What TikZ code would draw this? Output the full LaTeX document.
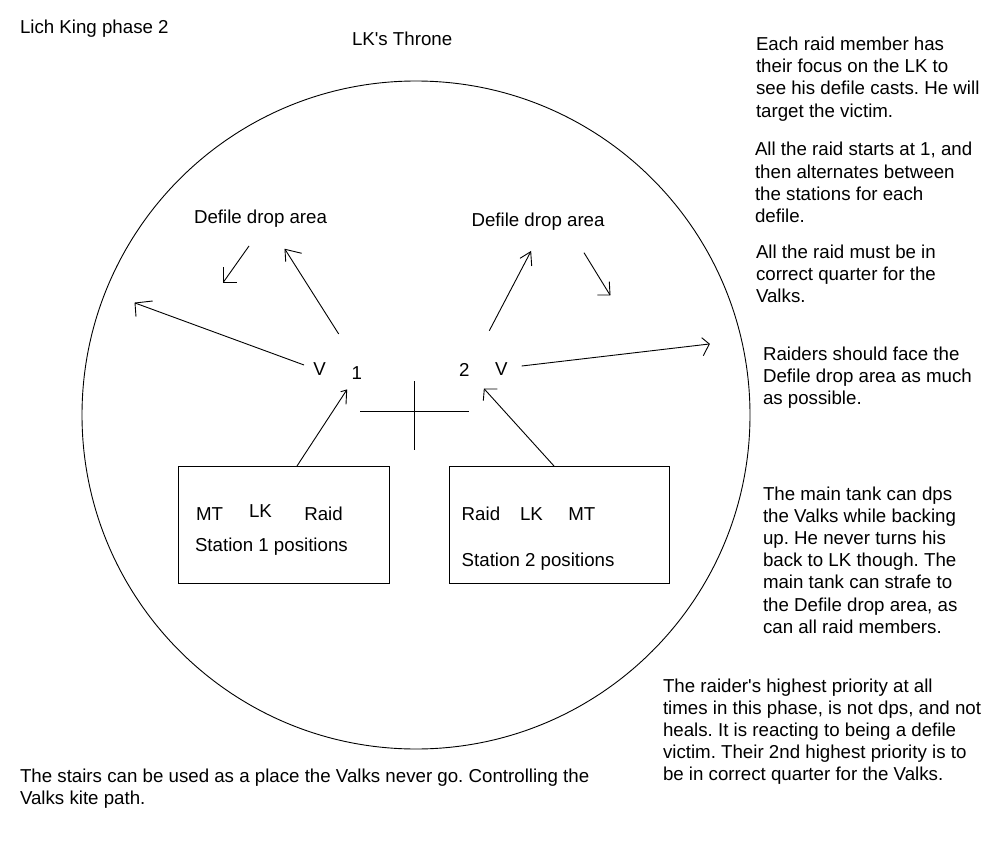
\documentclass[tikz,border=0pt]{standalone}
\usepackage{fontspec}
\setmainfont{Liberation Sans}
\frenchspacing
\begin{document}
\begin{tikzpicture}[x=1pt,y=-1pt,line width=0.9pt,
  txt/.style={anchor=base west,inner sep=0pt,outer sep=0pt,font=\fontsize{18.7}{22.2}\selectfont\frenchspacing,align=left},
  boxnode/.style={draw,anchor=north west,inner sep=0pt,outer sep=0pt},
  shaft/.style={draw,line width=0.9pt},
  head/.style={draw,line width=0.9pt}]
\useasboundingbox (0,0) rectangle (1000,850);
% arena
\node[draw,circle,minimum size=668pt,inner sep=0pt,outer sep=0pt] (arena) at (416,415) {};
% titles
\node[txt] (title) at (20,33.3) {Lich King phase 2};
\node[txt] (throne) at (352,45.7) {LK\textquotesingle s Throne};
\node[txt] (ddl) at (194,223.3) {Defile drop area};
\node[txt] (ddr) at (471.5,226.7) {Defile drop area};
\node[txt] (v1) at (313.3,375) {V};
\node[txt] (n1) at (351.7,379) {1};
\node[txt] (n2) at (459,376.7) {2};
\node[txt] (v2) at (495,375) {V};
% cross
\coordinate (cxl) at (360,411.7);
\coordinate (cxr) at (469,411.7);
\coordinate (cyt) at (414.5,381);
\coordinate (cyb) at (414.5,450);
\draw (cxl) -- (cxr);
\draw (cyt) -- (cyb);
% station boxes
\node[boxnode,minimum width=211pt,minimum height=117pt] (box1) at (178,466) {};
\node[boxnode,minimum width=220pt,minimum height=117pt] (box2) at (449,466) {};
\node[txt] (mt1) at (196,520) {MT};
\node[txt] (lk1) at (249,517.3) {LK};
\node[txt] (raid1) at (304.3,520) {Raid};
\node[txt] (st1) at (195,551.7) {Station 1 positions};
\node[txt] (raid2) at (461.7,520.7) {Raid};
\node[txt] (lk2) at (520,520.7) {LK};
\node[txt] (mt2) at (568.3,520.7) {MT};
\node[txt] (st2) at (461.7,566) {Station 2 positions};
% arrow coordinates
\coordinate (a1s) at (304,365);   \coordinate (a1t) at (135,303);
\coordinate (a2s) at (338.7,334); \coordinate (a2t) at (285,249.3);
\coordinate (a3s) at (249,246);   \coordinate (a3t) at (223.3,282.3);
\coordinate (a4s) at (297,466);   \coordinate (a4t) at (346.7,390);
\coordinate (a5s) at (489.3,330.7); \coordinate (a5t) at (530.7,251.7);
\coordinate (a6s) at (584,252.7); \coordinate (a6t) at (610,295);
\coordinate (a7s) at (521.7,366); \coordinate (a7t) at (709.3,344);
\coordinate (a8s) at (554,466);   \coordinate (a8t) at (484.3,389);
% shafts
\draw[shaft] (a1s) -- (a1t);
\draw[shaft] (a2s) -- (a2t);
\draw[shaft] (a3s) -- (a3t);
\draw[shaft] (a4s) -- (a4t);
\draw[shaft] (a5s) -- (a5t);
\draw[shaft] (a6s) -- (a6t);
\draw[shaft] (a7s) -- (a7t);
\draw[shaft] (a8s) -- (a8t);
% hand-drawn heads
\draw[head] (152.7,301) -- (a1t) -- (136,316.7);
\draw[head] (301.7,253.3) -- (a2t) -- (285.7,261.7);
\draw[head] (236.7,282.3) -- (a3t) -- (223.3,267.3);
\draw[head] (340.7,391.7) -- (a4t) -- (346,404.3);
\draw[head] (520,258.3) -- (a5t) -- (531.7,266);
\draw[head] (597.3,295) -- (a6t) -- (609.3,281.7);
\draw[head] (701.7,337.7) -- (a7t) -- (703.3,355.7);
\draw[head] (497.3,389) -- (a8t) -- (483.3,400.7);
% notes (anchor = baseline of last line)
\node[txt] (note1) at (756,117.1) {Each raid member has\\their focus on the LK to\\see his defile casts. He will\\target the victim.};
\node[txt] (note2) at (755,222.6) {All the raid starts at 1, and\\then alternates between\\the stations for each\\defile.};
\node[txt] (note3) at (756,302.4) {All the raid must be in\\correct quarter for the\\Valks.};
\node[txt] (note4) at (763,404.4) {Raiders should face the\\Defile drop area as much\\as possible.};
\node[txt] (note5) at (763,633.2) {The main tank can dps\\the Valks while backing\\up. He never turns his\\back to LK though. The\\main tank can strafe to\\the Defile drop area, as\\can all raid members.};
\node[txt] (note6) at (663,780.8) {The raider\textquotesingle s highest priority at all\\times in this phase, is not dps, and not\\heals. It is reacting to being a defile\\victim. Their 2nd highest priority is to\\be in correct quarter for the Valks.};
\node[txt] (note7) at (20,804.2) {The stairs can be used as a place the Valks never go. Controlling the\\Valks kite path.};
\end{tikzpicture}
\end{document}
